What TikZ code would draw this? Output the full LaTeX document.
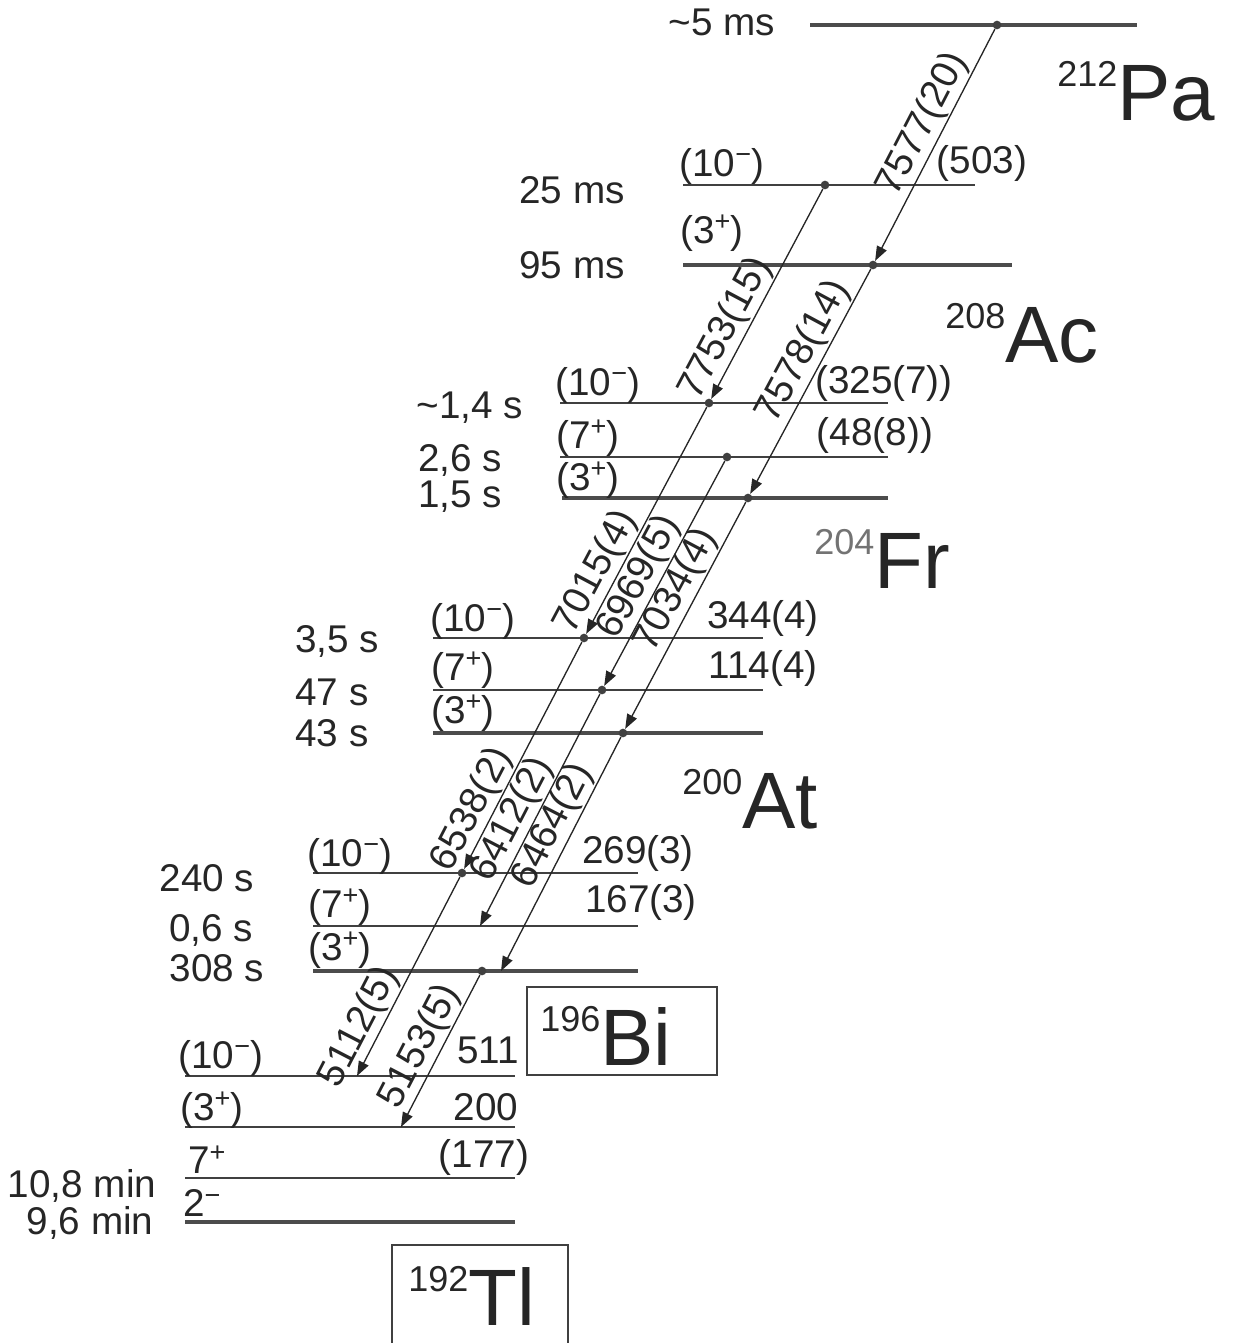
\documentclass[tikz,border=0pt]{standalone}
\usepackage{fontspec}
\setmainfont{Liberation Sans}
\usetikzlibrary{arrows.meta}
\newcommand\nuc[3][black!85]{{\fontsize{27}{27}\selectfont\color{#1}\raisebox{25pt}{#2}}{\fontsize{60}{60}\selectfont #3}}
\newcommand\mi{\textsuperscript{\char"2212}}
\newcommand\pl{\textsuperscript{+}}
\begin{document}
\begin{tikzpicture}[x=0.75pt,y=-0.75pt,
  txt/.style={font=\fontsize{29}{31}\selectfont, text=black!85, inner sep=0pt},
  lvlthin/.style={draw=black!75, line width=1.3pt},
  lvlthick/.style={draw=black!70, line width=3.6pt},
  decay/.style={draw=black!85, line width=1pt, -{Triangle[length=11pt,width=8pt]}},
  dlabel/.style={font=\fontsize{29}{31}\selectfont, sloped, above, inner sep=1pt, text=black!85},
  dotn/.style={circle, fill=black!75, inner sep=0pt, minimum size=6.5pt},
  nucl/.style={anchor=base west, inner sep=0pt, text=black!85},
  boxline/.style={draw=black!75, line width=0.9pt}
]
\useasboundingbox (0,0) rectangle (1234,1343);

% ---------- levels ----------
% 212Pa
\draw[lvlthick] (810,25) -- (1137,25);
% 208Ac
\draw[lvlthin]  (683,185) -- (975,185);
\draw[lvlthick] (683,265) -- (1012,265);
% 204Fr
\draw[lvlthin]  (560,403) -- (888,403);
\draw[lvlthin]  (560,457) -- (888,457);
\draw[lvlthick] (562,498) -- (888,498);
% 200At
\draw[lvlthin]  (433,638) -- (763,638);
\draw[lvlthin]  (433,690) -- (763,690);
\draw[lvlthick] (433,733) -- (763,733);
% 196Bi
\draw[lvlthin]  (313,873) -- (638,873);
\draw[lvlthin]  (313,926) -- (638,926);
\draw[lvlthick] (313,971) -- (638,971);
% 192Tl
\draw[lvlthin]  (185,1076) -- (515,1076);
\draw[lvlthin]  (185,1127) -- (515,1127);
\draw[lvlthin]  (185,1178) -- (515,1178);
\draw[lvlthick] (185,1222) -- (515,1222);

% ---------- dots and end points ----------
\node[dotn] (dPa)  at (997,25) {};
\node[dotn] (dAcA) at (825,185) {};
\node[dotn] (dAcB) at (873,265) {};
\node[dotn] (dFrA) at (709,403) {};
\node[dotn] (dFrB) at (727,457) {};
\node[dotn] (dFrC) at (748,498) {};
\node[dotn] (dAtA) at (584,638) {};
\node[dotn] (dAtB) at (602,690) {};
\node[dotn] (dAtC) at (623,733) {};
\node[dotn] (dBiA) at (462,873) {};
\coordinate (cBiB) at (480,926);
\node[dotn] (dBiC) at (482,971) {};
\coordinate (cBiC) at (501,971);
\coordinate (cTlA) at (357,1076);
\coordinate (cTlB) at (401,1127);

% ---------- decays ----------
\draw[decay] (dPa)  -- node[dlabel, pos=0.45] {7577(20)} (dAcB);
\draw[decay] (dAcA) -- node[dlabel, pos=0.71] {7753(15)} (dFrA);
\draw[decay] (dAcB) -- node[dlabel, pos=0.41] {7578(14)} (dFrC);
\draw[decay] (dFrA) -- node[dlabel, pos=0.77] {7015(4)} (dAtA);
\draw[decay] (dFrB) -- node[dlabel, pos=0.56] {6969(5)} (dAtB);
\draw[decay] (dFrC) -- node[dlabel, pos=0.43] {7034(4)} (dAtC);
\draw[decay] (dAtA) -- node[dlabel, pos=0.78] {6538(2)} (dBiA);
\draw[decay] (dAtB) -- node[dlabel, pos=0.58] {6412(2)} (cBiB);
\draw[decay] (dAtC) -- node[dlabel, pos=0.42] {6464(2)} (cBiC);
\draw[decay] (dBiA) -- node[dlabel, pos=0.80] {5112(5)} (cTlA);
\draw[decay] (dBiC) -- node[dlabel, pos=0.53] {5153(5)} (cTlB);

% ---------- half-lives ----------
\node[txt] (hPa)  at (722,22) {\textasciitilde5 ms};
\node[txt] (hAcA) at (572,190) {25 ms};
\node[txt] (hAcB) at (572,265) {95 ms};
\node[txt] (hFrA) at (470,408) {\textasciitilde1,4 s};
\node[txt] (hFrB) at (460,460) {2,6 s};
\node[txt] (hFrC) at (460,497) {1,5 s};
\node[txt] (hAtA) at (337,641) {3,5 s};
\node[txt] (hAtB) at (332,692) {47 s};
\node[txt] (hAtC) at (332,733) {43 s};
\node[txt] (hBiA) at (207,878) {240 s};
\node[txt] (hBiB) at (211,930) {0,6 s};
\node[txt] (hBiC) at (217,968) {308 s};
\node[txt] (hTlA) at (82,1186) {10,8 min};
\node[txt] (hTlB) at (90,1223) {9,6 min};

% ---------- spins ----------
\node[txt] (sAcA) at (722,166) {(10\mi)};
\node[txt] (sAcB) at (712,233) {(3\pl)};
\node[txt] (sFrA) at (598,385) {(10\mi)};
\node[txt] (sFrB) at (588,438) {(7\pl)};
\node[txt] (sFrC) at (588,480) {(3\pl)};
\node[txt] (sAtA) at (473,621) {(10\mi)};
\node[txt] (sAtB) at (463,670) {(7\pl)};
\node[txt] (sAtC) at (463,713) {(3\pl)};
\node[txt] (sBiA) at (350,856) {(10\mi)};
\node[txt] (sBiB) at (340,907) {(7\pl)};
\node[txt] (sBiC) at (340,950) {(3\pl)};
\node[txt] (sTlA) at (221,1058) {(10\mi)};
\node[txt] (sTlB) at (212,1110) {(3\pl)};
\node[txt] (sTlC) at (207,1160) {7\pl};
\node[txt] (sTlD) at (202,1203) {2\mi};

% ---------- energies ----------
\node[txt] (eAcA) at (982,163) {(503)};
\node[txt] (eFrA) at (884,383) {(325(7))};
\node[txt] (eFrB) at (875,435) {(48(8))};
\node[txt] (eAtA) at (763,618) {344(4)};
\node[txt] (eAtB) at (763,668) {114(4)};
\node[txt] (eBiA) at (638,853) {269(3)};
\node[txt] (eBiB) at (641,902) {167(3)};
\node[txt] (eTlA) at (488,1050) {511};
\node[txt] (eTlB) at (486,1107) {200};
\node[txt] (eTlC) at (484,1157) {(177)};

% ---------- nuclides ----------
\node[nucl] (nPa) at (1057,120) {\nuc{212}{Pa}};
\node[nucl] (nAc) at (945,362) {\nuc{208}{Ac}};
\node[nucl] (nFr) at (814,588) {\nuc[black!55]{204}{Fr}};
\node[nucl] (nAt) at (682,828) {\nuc{200}{At}};
\node[nucl] (nBi) at (540,1065) {\nuc{196}{Bi}};
\node[nucl] (nTl) at (408,1325) {\nuc{192}{Tl}};
\draw[boxline] (527,987) rectangle (717,1075);
\draw[boxline] (392,1343) -- (392,1245) -- (568,1245) -- (568,1343);
\end{tikzpicture}
\end{document}
